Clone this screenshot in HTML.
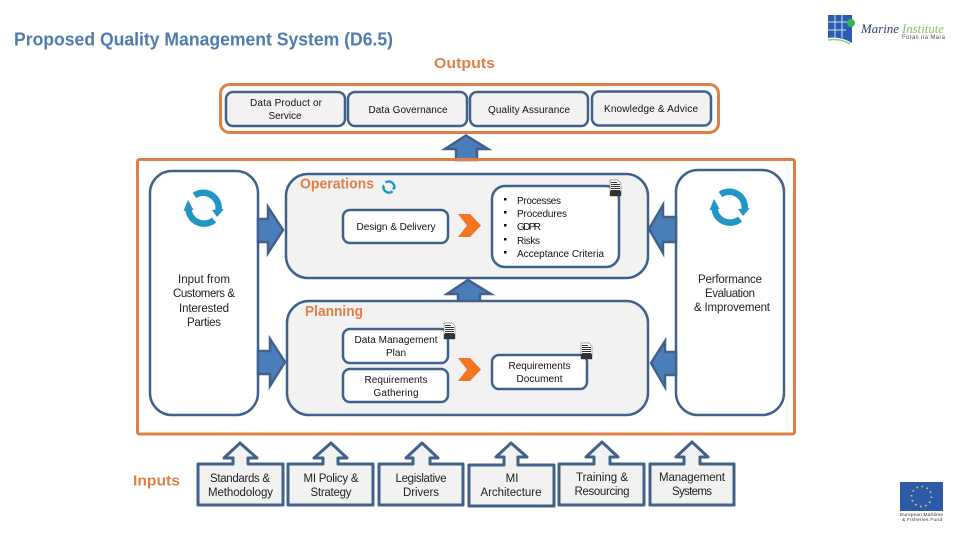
<!DOCTYPE html>
<html lang="en"><head><meta charset="utf-8"><title>Proposed Quality Management System</title>
<style>
html,body{margin:0;padding:0;background:#fff;width:960px;height:540px;overflow:hidden}
svg{display:block}
text{font-family:"Liberation Sans",sans-serif}
.t{font-size:10px;fill:#111;text-anchor:middle}
.s{font-size:10px;fill:#111;text-anchor:start}
.m{font-size:11.5px;fill:#222;text-anchor:middle}
.h{font-size:15px;font-weight:bold;fill:#DD8047}
.b{fill:#f2f2f2;stroke:#41618B;stroke-width:2.5}
.w{fill:#fff;stroke:#41618B;stroke-width:2.5}
.a{fill:#4A7EBB;stroke:#41618B;stroke-width:2.5;stroke-linejoin:miter}
.c{fill:#F47521}
.o{fill:none;stroke:#DD8047;stroke-width:3}
.ib{fill:#f2f2f2;stroke:#41618B;stroke-width:3;stroke-linejoin:round}
</style></head><body>
<svg width="960" height="540" viewBox="0 0 960 540" xmlns="http://www.w3.org/2000/svg">
<defs>
<g id="ref" fill="none" stroke="#2196C4" stroke-width="6.500">
<path d="M-9.500 -12.500A15.500 15.500 0 0 1 14.500 3"/>
<path d="M10 12A15.500 15.500 0 0 1 -15.500 1"/>
<path d="M8 2L20 1L13 9Z" fill="#2196C4" stroke="none"/>
<path d="M-20.500 3L-10.500 2L-16 -8Z" fill="#2196C4" stroke="none"/>
</g>
<g id="doc">
<path d="M0 0H8L11 3V16H0Z" fill="#fff" stroke="#555" stroke-width=".5"/>
<path d="M1 2.500H7M1 4.500H10M1 6.500H10M1 8.500H10M1 10.500H10" stroke="#333" stroke-width="1"/>
<rect x="0" y="11" width="11" height="5" fill="#333"/>
</g>
</defs>

<text x="14" y="45.500" font-size="18" font-weight="bold" fill="#4F7BAE" textLength="379" lengthAdjust="spacingAndGlyphs">Proposed Quality Management System (D6.5)</text>
<text class="h" x="434" y="68" textLength="61" lengthAdjust="spacingAndGlyphs">Outputs</text>

<!-- Outputs -->
<rect class="o" x="220.500" y="84.500" width="498" height="48" rx="9"/>
<rect class="b" x="226" y="92" width="119" height="34" rx="7"/>
<rect class="b" x="348" y="92" width="119" height="34" rx="7"/>
<rect class="b" x="470" y="92" width="118" height="34" rx="7"/>
<rect class="b" x="592" y="91.500" width="119" height="34" rx="7" stroke-width="3"/>
<text class="t" x="286" y="106" textLength="72">Data Product or</text>
<text class="t" x="285" y="119" textLength="33">Service</text>
<text class="t" x="408" y="113" textLength="79">Data Governance</text>
<text class="t" x="529" y="113" textLength="82">Quality Assurance</text>
<text class="t" x="651" y="112" textLength="94">Knowledge &amp; Advice</text>

<!-- Outer frame -->
<path class="a" d="M456 160V149H445L466 135.500L488 149H477V160Z"/>
<rect class="o" x="137.500" y="159.500" width="657" height="274.500" rx="2"/>

<!-- Side boxes -->
<rect class="w" x="150" y="171" width="108" height="244" rx="22"/>
<rect class="w" x="676" y="170" width="108" height="245" rx="22"/>

<!-- Operations -->
<rect class="b" x="286" y="174" width="362" height="104" rx="22"/>
<!-- Planning -->
<path class="a" d="M458 302V294H447L468 280L491 294H480V302Z"/>
<rect class="b" x="287" y="301" width="361" height="114" rx="22"/>

<!-- Side arrows -->
<path class="a" d="M258 219H268V207L283 230L268 253V242H258Z"/>
<path class="a" d="M258 351H270V339L285 362L270 386V374H258Z"/>
<path class="a" d="M676 217H663V205L649 229L663 253V242H676Z"/>
<path class="a" d="M676 352H665V341L651 363L665 387V375H676Z"/>

<text class="h" x="300" y="188.500" textLength="74" lengthAdjust="spacingAndGlyphs">Operations</text>
<text class="h" x="305" y="316" textLength="58" lengthAdjust="spacingAndGlyphs">Planning</text>

<rect class="w" x="343" y="210" width="105" height="33" rx="7"/>
<text class="t" x="396" y="230" textLength="79">Design &amp; Delivery</text>

<rect class="w" x="343" y="329" width="105" height="34" rx="7"/>
<text class="t" x="396" y="343" textLength="83">Data Management</text>
<text class="t" x="396" y="356" textLength="20">Plan</text>
<rect class="w" x="343" y="369" width="105" height="33" rx="7"/>
<text class="t" x="396" y="383" textLength="63">Requirements</text>
<text class="t" x="396" y="396" textLength="45">Gathering</text>

<rect class="w" x="492" y="186" width="127" height="81" rx="13"/>
<text class="s" x="517" y="204" textLength="44">Processes</text>
<text class="s" x="517" y="217" textLength="50">Procedures</text>
<text class="s" x="517" y="230" textLength="24">GDPR</text>
<text class="s" x="517" y="244" textLength="23">Risks</text>
<text class="s" x="517" y="257" textLength="87">Acceptance Criteria</text>
<g fill="#111"><rect x="504" y="198" width="2.500" height="2.500"/><rect x="504" y="211" width="2.500" height="2.500"/><rect x="504" y="224" width="2.500" height="2.500"/><rect x="504" y="238" width="2.500" height="2.500"/><rect x="504" y="251" width="2.500" height="2.500"/></g>

<rect class="w" x="492" y="355" width="95" height="34" rx="7"/>
<text class="t" x="539.500" y="369" textLength="62">Requirements</text>
<text class="t" x="539.500" y="382" textLength="46">Document</text>

<use href="#doc" x="610" y="180"/>
<use href="#doc" x="444" y="323"/>
<use href="#doc" x="581" y="343"/>

<path class="c" d="M458 214H470L481 225.500L470 237H458L467 225.500Z"/>
<path class="c" d="M458 358H470L481 369.500L470 381H458L467 369.500Z"/>

<use href="#ref" x="204" y="208"/>
<use href="#ref" x="730" y="207"/>
<use href="#ref" transform="translate(389 187) scale(.36)"/>

<text class="m" x="204" y="283" textLength="52">Input from</text>
<text class="m" x="204" y="297" textLength="62">Customers &amp;</text>
<text class="m" x="204" y="312" textLength="50">Interested</text>
<text class="m" x="204" y="326" textLength="34">Parties</text>
<text class="m" x="730" y="283" textLength="64">Performance</text>
<text class="m" x="730" y="297" textLength="50">Evaluation</text>
<text class="m" x="732" y="311" textLength="76">&amp; Improvement</text>

<!-- Inputs -->
<text class="h" x="133" y="485.500" textLength="47" lengthAdjust="spacingAndGlyphs">Inputs</text>
<path class="ib" d="M198 464H233V458H224L240 443L257 458H248V464H283V505H198Z"/>
<path class="ib" d="M288 464H323V458H314L331 443L347 458H338V464H373V505H288Z"/>
<path class="ib" d="M379 464H413V458H406L422 443L438 458H430V464H463V505H379Z"/>
<path class="ib" d="M469 465H504V457H496L511 443L527 457H518V465H554V506H469Z"/>
<path class="ib" d="M559 464H594V457H586L602 442L618 457H610V464H644V505H559Z"/>
<path class="ib" d="M650 464H684V457H676L692 442L708 457H700V464H734V505H650Z"/>
<text class="m" x="240" y="482" textLength="60">Standards &amp;</text>
<text class="m" x="240.500" y="496" textLength="65">Methodology</text>
<text class="m" x="331" y="482" textLength="55">MI Policy &amp;</text>
<text class="m" x="331" y="496" textLength="41">Strategy</text>
<text class="m" x="421" y="482" textLength="51">Legislative</text>
<text class="m" x="421" y="496" textLength="36">Drivers</text>
<text class="m" x="512" y="482">MI</text>
<text class="m" x="511" y="496" textLength="61">Architecture</text>
<text class="m" x="602" y="481" textLength="52">Training &amp;</text>
<text class="m" x="602" y="495" textLength="55">Resourcing</text>
<text class="m" x="692" y="481" textLength="66">Management</text>
<text class="m" x="692" y="495" textLength="40">Systems</text>

<!-- Marine Institute logo -->
<path d="M828 15H852V43Q840 36 828 38Z" fill="#2A5CB0"/>
<path d="M828 40Q840 38 850 44" stroke="#9CCB8A" stroke-width="1.500" fill="none"/>
<path d="M835 15V38M842 15V38M828 22H852M828 30H846" stroke="#cfe0f5" stroke-width="1"/>
<circle cx="851" cy="23" r="4" fill="#38B54A"/>
<text x="861" y="33" font-size="13" font-style="italic" style="font-family:'Liberation Serif',serif" fill="#333A70" textLength="38" lengthAdjust="spacingAndGlyphs">Marine</text>
<text x="902" y="33" font-size="13" font-style="italic" style="font-family:'Liberation Serif',serif" fill="#8DBB6E" textLength="42" lengthAdjust="spacingAndGlyphs">Institute</text>
<text x="902" y="39" font-size="6" fill="#555" textLength="43">Foras na Mara</text>

<!-- EU flag -->
<rect x="900" y="482" width="43" height="29" fill="#2C5AA8"/>
<circle cx="921.500" cy="496.500" r="10" fill="none" stroke="#E6D56B" stroke-width="1.600" stroke-dasharray="1.600 3.600"/>
<text x="900" y="516" font-size="4.800" fill="#333" textLength="43">European Maritime</text>
<text x="902" y="521" font-size="4.800" fill="#333" textLength="40">&amp; Fisheries Fund</text>
</svg>
</body></html>
